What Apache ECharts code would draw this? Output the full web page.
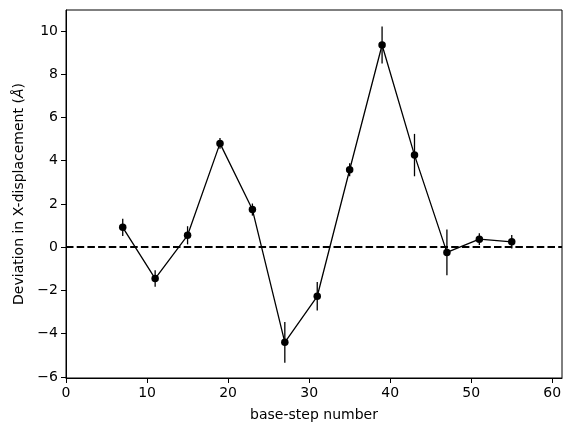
<!DOCTYPE html>
<html>
<head>
<meta charset="utf-8">
<script src="https://cdn.jsdelivr.net/npm/echarts@6/dist/echarts.min.js"></script>
<style>
  html, body { margin: 0; padding: 0; background: #fff; }
  #chart { width: 572px; height: 432px; }
</style>
</head>
<body>
<div id="chart"></div>
<script>
// base-step positions and measured deviation (Å) with error
var steps = [7, 11, 15, 19, 23, 27, 31, 35, 39, 43, 47, 51, 55];
var deviation = [0.92, -1.45, 0.55, 4.8, 1.74, -4.4, -2.27, 3.58, 9.35, 4.26, -0.24, 0.37, 0.25];
var errors = [0.4, 0.38, 0.42, 0.25, 0.28, 0.94, 0.66, 0.3, 0.86, 0.98, 1.06, 0.27, 0.31];
var xTicks = [0, 10, 20, 30, 40, 50, 60];
var yTicks = [-6, -4, -2, 0, 2, 4, 6, 8, 10];

var font = "DejaVu Sans";
var chart = echarts.init(document.getElementById("chart"));

var lineData = steps.map(function (s, i) {
  return [s, deviation[i]];
});
var errData = steps.map(function (s, i) {
  return [s, deviation[i], errors[i]];
});

chart.setOption({
  animation: false,
  textStyle: { fontFamily: font, color: "#000" },
  grid: {
    left: 66,
    right: 10,
    top: 10,
    bottom: 54,
    show: true,
    borderColor: "#000",
    borderWidth: 1,
  },
  xAxis: {
    type: "value",
    min: 0,
    max: 61.2,
    name: "base-step number",
    nameLocation: "middle",
    nameGap: 30,
    nameTextStyle: { fontFamily: font, fontSize: 14, color: "#000" },
    axisLine: { show: true, onZero: false, lineStyle: { color: "#000", width: 1 } },
    axisTick: {
      show: true,
      inside: false,
      length: 5,
      customValues: xTicks,
      lineStyle: { color: "#000", width: 1 },
    },
    axisLabel: {
      customValues: xTicks,
      margin: 8,
      fontFamily: font,
      fontSize: 14,
      color: "#000",
    },
    splitLine: { show: false },
  },
  yAxis: {
    type: "value",
    min: -6.05,
    max: 10.97,
    name: "Deviation in X-displacement ({i|Å})",
    nameLocation: "middle",
    nameGap: 39,
    nameTextStyle: {
      fontFamily: font,
      fontSize: 14,
      color: "#000",
      rich: { i: { fontFamily: font, fontSize: 14, fontStyle: "italic", color: "#000" } },
    },
    axisLine: { show: true, onZero: false, lineStyle: { color: "#000", width: 1 } },
    axisTick: {
      show: true,
      inside: false,
      length: 5,
      customValues: yTicks,
      lineStyle: { color: "#000", width: 1 },
    },
    axisLabel: {
      customValues: yTicks,
      margin: 8,
      fontFamily: font,
      fontSize: 14,
      color: "#000",
      formatter: function (v) {
        return v < 0 ? "\u2212" + Math.abs(v) : String(v);
      },
    },
    splitLine: { show: false },
  },
  series: [
    {
      type: "custom",
      name: "error",
      data: errData,
      encode: { x: 0, y: 1 },
      z: 3,
      renderItem: function (params, api) {
        var x = api.value(0);
        var y = api.value(1);
        var e = api.value(2);
        var top = api.coord([x, y + e]);
        var bot = api.coord([x, y - e]);
        return {
          type: "line",
          shape: { x1: top[0], y1: top[1], x2: bot[0], y2: bot[1] },
          style: { stroke: "#000", lineWidth: 1.3 },
        };
      },
    },
    {
      type: "line",
      name: "deviation",
      data: lineData,
      z: 4,
      symbol: "circle",
      symbolSize: 7.5,
      itemStyle: { color: "#000" },
      lineStyle: { color: "#000", width: 1.3 },
      markLine: {
        silent: true,
        symbol: ["none", "none"],
        label: { show: false },
        lineStyle: { color: "#000", width: 2, type: [7.5, 3.2] },
        data: [{ yAxis: 0 }],
      },
    },
  ],
});
</script>
</body>
</html>
